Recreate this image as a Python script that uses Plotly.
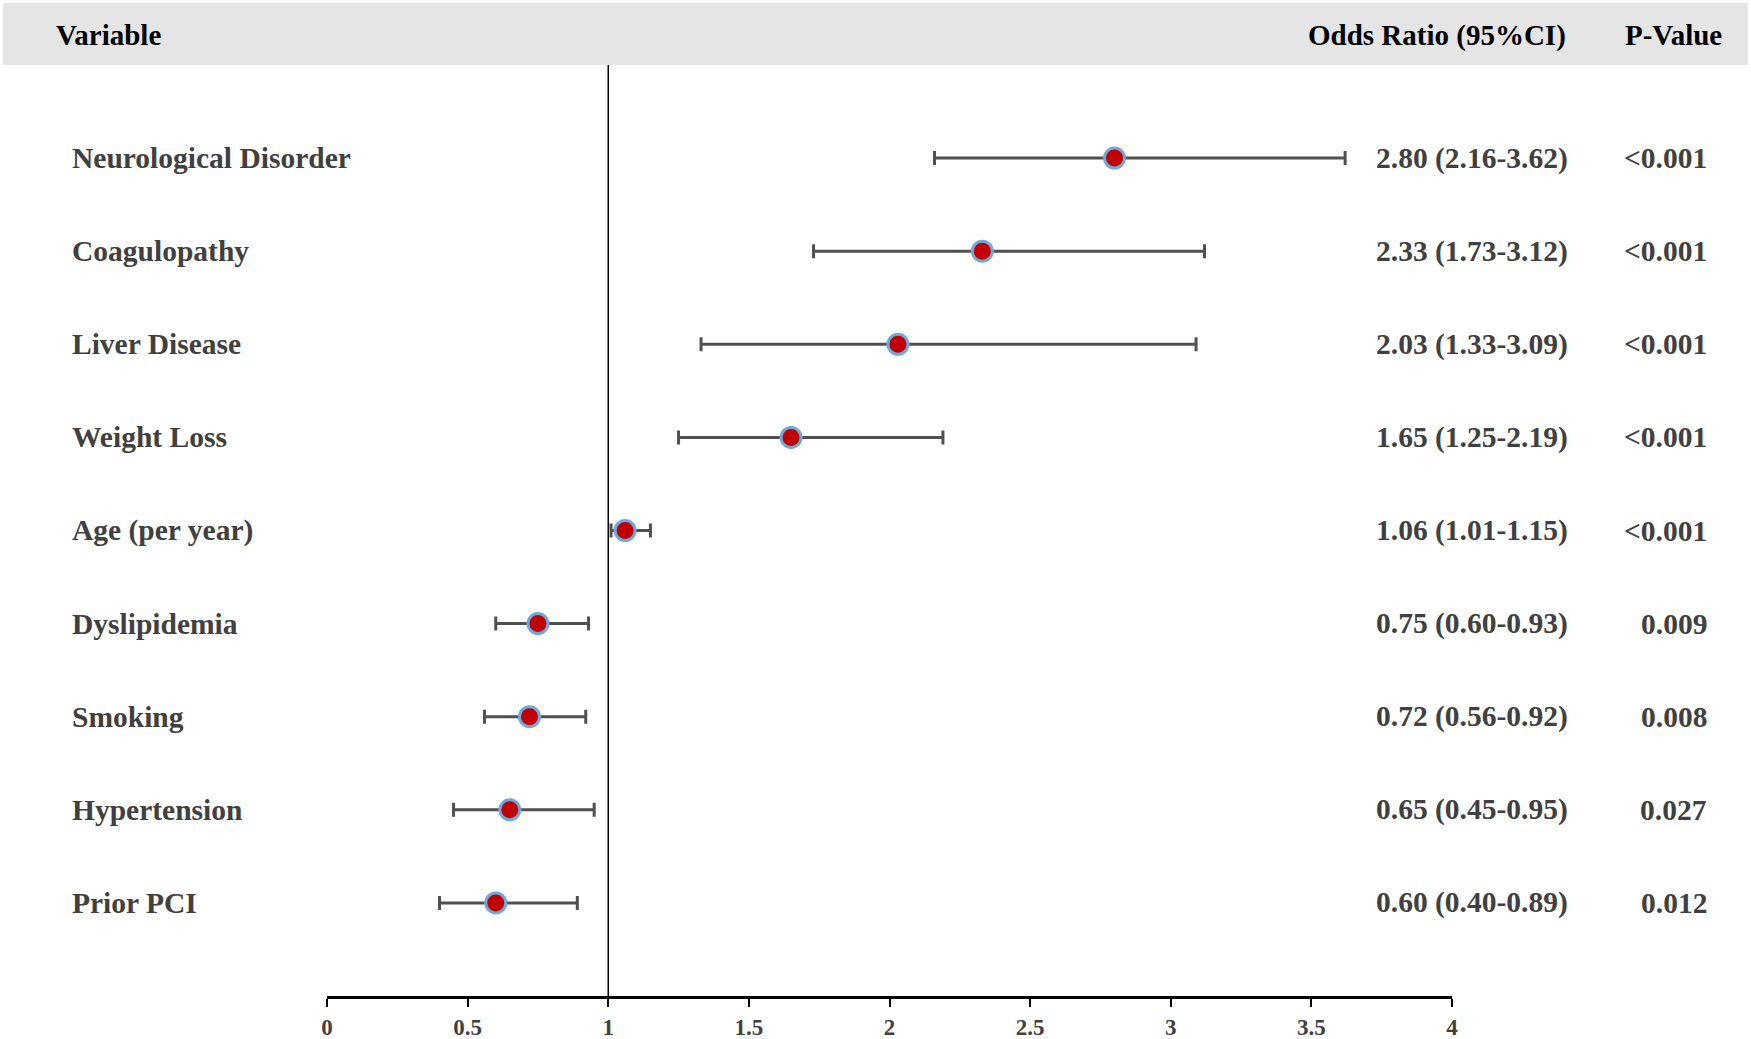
import plotly.graph_objects as go

# ---- data ----
variables = ["Neurological Disorder", "Coagulopathy", "Liver Disease", "Weight Loss",
             "Age (per year)", "Dyslipidemia", "Smoking", "Hypertension", "Prior PCI"]
odds_ratio = [2.80, 2.33, 2.03, 1.65, 1.06, 0.75, 0.72, 0.65, 0.60]
ci_low = [2.16, 1.73, 1.33, 1.25, 1.01, 0.60, 0.56, 0.45, 0.40]
ci_high = [3.62, 3.12, 3.09, 2.19, 1.15, 0.93, 0.92, 0.95, 0.89]
p_values = ["<0.001", "<0.001", "<0.001", "<0.001", "<0.001", "0.009", "0.008", "0.027", "0.012"]
x_ticks = [0, 0.5, 1, 1.5, 2, 2.5, 3, 3.5, 4]
x_tick_labels = ["0", "0.5", "1", "1.5", "2", "2.5", "3", "3.5", "4"]

# ---- layout constants ----
W, H = 1751, 1039
ML, MR, MT, MB = 327, 299, 65, 43
PW = W - ML - MR
PH = H - MT - MB
FONT = "Liberation Serif, Times New Roman, serif"


def px(x):
    return (x - ML) / PW


def py(y):
    return (H - MB - y) / PH


err_plus = [h - o for h, o in zip(ci_high, odds_ratio)]
err_minus = [o - l for o, l in zip(odds_ratio, ci_low)]

fig = go.Figure()
fig.add_trace(go.Scatter(
    x=odds_ratio, y=variables, mode="markers",
    marker=dict(size=20, color="#c00000", line=dict(color="#6fa8dc", width=3)),
    error_x=dict(type="data", symmetric=False, array=err_plus, arrayminus=err_minus,
                 color="#505050", thickness=3, width=7),
    showlegend=False, hoverinfo="skip",
))

shapes = [
    dict(type="rect", xref="paper", yref="paper", x0=px(3), x1=px(1748), y0=py(65), y1=py(3),
         fillcolor="#e5e5e5", line=dict(width=0), layer="below"),
    dict(type="line", xref="x", yref="paper", x0=1, x1=1, y0=0, y1=1,
         line=dict(color="black", width=1.5)),
]

ann = []
hdr_font = dict(family=FONT, size=29, color="black", weight="bold")
row_font = dict(family=FONT, size=29.5, color="#404040", weight="bold")
hy = py(35)
ann.append(dict(text="Variable", x=px(54), y=hy, xref="paper", yref="paper",
                xanchor="left", yanchor="middle", showarrow=False, font=hdr_font))
ann.append(dict(text="Odds Ratio (95%CI)", x=px(1568), y=hy, xref="paper", yref="paper",
                xanchor="right", yanchor="middle", showarrow=False, font=hdr_font))
ann.append(dict(text="P-Value", x=px(1623), y=hy, xref="paper", yref="paper",
                xanchor="left", yanchor="middle", showarrow=False, font=hdr_font))
for v, o, lo, hi, p in zip(variables, odds_ratio, ci_low, ci_high, p_values):
    ann.append(dict(text=v, x=px(70), y=v, xref="paper", yref="y",
                    xanchor="left", yanchor="middle", showarrow=False, font=row_font))
    ann.append(dict(text=f"{o:.2f} ({lo:.2f}-{hi:.2f})", x=px(1570), y=v, xref="paper", yref="y",
                    xanchor="right", yanchor="middle", showarrow=False, font=row_font))
    ann.append(dict(text=p, x=px(1709), y=v, xref="paper", yref="y",
                    xanchor="right", yanchor="middle", showarrow=False, font=row_font))

fig.update_layout(
    width=W, height=H,
    margin=dict(l=ML, r=MR, t=MT, b=MB, pad=0),
    paper_bgcolor="white", plot_bgcolor="white",
    shapes=shapes, annotations=ann,
    xaxis=dict(range=[0, 4], tickvals=x_ticks, ticktext=x_tick_labels, automargin=False,
               showgrid=False, zeroline=False, showline=True, linecolor="black", linewidth=3,
               ticks="outside", ticklen=8, tickwidth=2, tickcolor="black",
               tickfont=dict(family=FONT, size=23, color="#404040", weight="bold")),
    yaxis=dict(type="category", categoryarray=variables, range=[9, -1], automargin=False,
               showgrid=False, zeroline=False, showline=False, showticklabels=False, ticks=""),
)

fig.write_html("out.html", config={"displayModeBar": False},
               post_script="document.body.style.margin='0';document.body.style.overflow='hidden';")
